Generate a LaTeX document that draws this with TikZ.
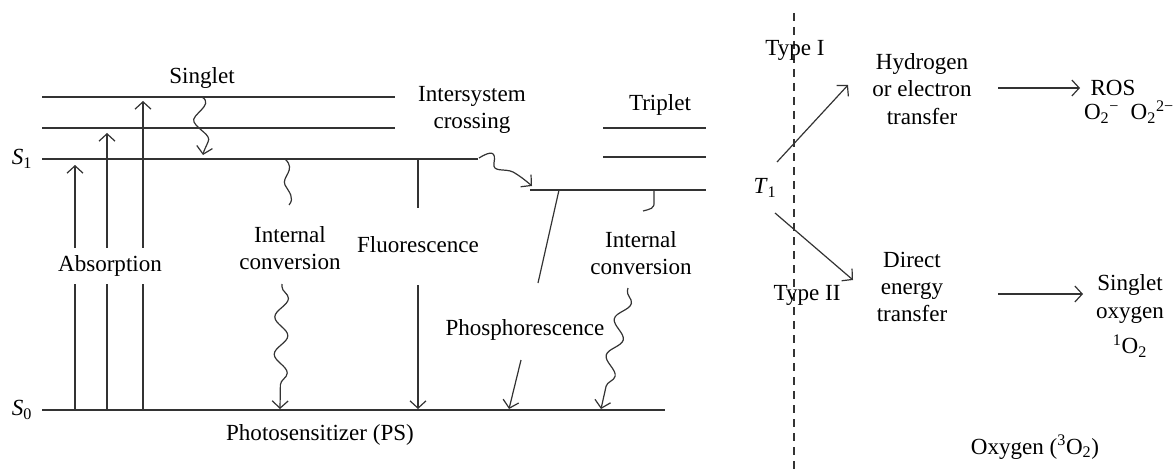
\documentclass[tikz,border=0pt]{standalone}
\usepackage{fontspec}
\setmainfont{Liberation Serif}
\usetikzlibrary{arrows.meta,decorations.pathmorphing}
\definecolor{ink}{HTML}{333333}
\begin{document}
\begin{tikzpicture}[x=0.75pt,y=-0.75pt,
  lvl/.style={draw=ink, line width=1pt},
  arr/.style={draw=ink, line width=0.9pt, -{Straight Barb[length=5.5pt,width=12pt]}},
  plain/.style={draw=ink, line width=0.9pt},
  lbl/.style={font=\fontsize{17.3}{20.5}\selectfont, align=center, inner sep=1pt, text=black},
  wavy/.style={decorate, decoration={snake, amplitude=5pt, segment length=28pt, post length=5pt, pre length=2pt}},
  dashline/.style={draw=ink, line width=0.9pt, dash pattern=on 6pt off 4.5pt}]
\useasboundingbox (0,0) rectangle (1176,474);

% ---------- levels ----------
\coordinate (sgA) at (42,97);  \coordinate (sgAe) at (395,97);
\coordinate (sgB) at (42,128); \coordinate (sgBe) at (395,128);
\coordinate (S1L) at (42,159); \coordinate (S1R) at (478,159);
\coordinate (S0L) at (42,410); \coordinate (S0R) at (665,410);
\coordinate (T1L) at (530,190); \coordinate (T1R) at (706,190);
\coordinate (tA) at (603,128); \coordinate (tAe) at (706,128);
\coordinate (tB) at (603,157); \coordinate (tBe) at (706,157);
\draw[lvl] (sgA) -- (sgAe);
\draw[lvl] (sgB) -- (sgBe);
\draw[lvl] (S1L) -- (S1R);
\draw[lvl] (S0L) -- (S0R);
\draw[lvl] (T1L) -- (T1R);
\draw[lvl] (tA) -- (tAe);
\draw[lvl] (tB) -- (tBe);

% ---------- labels left ----------
\node[lbl] (s1) at (22,159) {\textit{S}\textsubscript{1}};
\node[lbl] (s0) at (22,410) {\textit{S}\textsubscript{0}};
\node[lbl] (singlet) at (202,78) {Singlet};
\node[lbl] (triplet) at (660,105) {Triplet};
\node[lbl] (isc) at (472,110) {Intersystem\\crossing};
\node[lbl] (ps) at (320,435) {Photosensitizer (PS)};

% ---------- absorption ----------
\coordinate (a1b) at (75,410);  \coordinate (a1t) at (75,165);
\coordinate (a2b) at (107,410); \coordinate (a2t) at (107,133);
\coordinate (a3b) at (143,410); \coordinate (a3t) at (143,101);
\draw[arr] (a1b) -- (a1t);
\draw[arr] (a2b) -- (a2t);
\draw[arr] (a3b) -- (a3t);
\node[lbl, fill=white, inner xsep=8pt, inner ysep=6pt] (abs) at (110,266) {Absorption};

% singlet relaxation
\coordinate (vrA) at (202,97); \coordinate (vrB) at (203,155);
\draw[arr] (vrA) .. controls (215,105) and (190,115) .. (194,122)
           .. controls (198,130) and (212,135) .. (208,142)
           .. controls (206,147) and (204,150) .. (vrB);

% internal conversion (left)
\node[lbl] (icl) at (290,248) {Internal\\conversion};
\coordinate (icA) at (285,159); \coordinate (icB) at (289,205);
\draw[plain] (icA) .. controls (297,170) and (281,177) .. (285,185)
             .. controls (289,192) and (295,198) .. (icB);
\coordinate (icC) at (282,284); \coordinate (icD) at (280,409);
\draw[arr, wavy] (icC) -- (icD);

% fluorescence
\node[lbl] (fl) at (418,245) {Fluorescence};
\coordinate (flA) at (418,159); \coordinate (flB) at (418,208);
\coordinate (flC) at (418,285); \coordinate (flD) at (418,409);
\draw[plain] (flA) -- (flB);
\draw[arr] (flC) -- (flD);

% intersystem crossing wavy
\coordinate (iscA) at (479,158); \coordinate (iscB) at (532,186);
\draw[arr] (iscA) .. controls (492,150) and (496,152) .. (494,163)
           .. controls (492,173) and (505,168) .. (513,172)
           .. controls (520,176) and (525,180) .. (iscB);

% phosphorescence
\node[lbl] (ph) at (525,330) {Phosphorescence};
\coordinate (phA) at (559,190); \coordinate (phB) at (538,283);
\coordinate (phC) at (521,360); \coordinate (phD) at (509,409);
\draw[plain] (phA) -- (phB);
\draw[arr] (phC) -- (phD);

% internal conversion (right)
\node[lbl] (icr) at (641,253) {Internal\\conversion};
\coordinate (hkA) at (654,190); \coordinate (hkB) at (643,211);
\draw[plain] (hkA) -- (654,201) .. controls (655,209) and (650,209) .. (hkB);
\coordinate (icrC) at (628,288); \coordinate (icrD) at (601,409);
\draw[arr, wavy] (icrC) -- (icrD);

% ---------- right part ----------
\coordinate (dTop) at (794,13); \coordinate (dBot) at (794,474);
\draw[dashline] (dTop) -- (dBot);
\node[lbl] (t1) at (765,188) {\textit{T}\textsubscript{1}};
\node[lbl] (type1) at (795,50) {Type I};
\node[lbl] (type2) at (807,295) {Type II};
\node[lbl] (hyd) at (922,89) {Hydrogen\\or electron\\transfer};
\node[lbl] (det) at (912,287) {Direct\\energy\\transfer};
\node[lbl] (ros) at (1113,88) {ROS};
\node[lbl] (rosx) at (1129,112) {O\textsubscript{2}\textsuperscript{−}\ \ O\textsubscript{2}\textsuperscript{2−}};
\node[lbl] (so) at (1130,316) {Singlet\\oxygen\\[6pt]\textsuperscript{1}O\textsubscript{2}};
\node[lbl] (ox) at (1035,447) {Oxygen (\textsuperscript{3}O\textsubscript{2})};

\coordinate (k1A) at (777,162); \coordinate (k1B) at (848,85);
\coordinate (k2A) at (775,213); \coordinate (k2B) at (853,280);
\draw[arr] (k1A) -- (k1B);
\draw[arr] (k2A) -- (k2B);
\coordinate (r1A) at (998,88);  \coordinate (r1B) at (1080,88);
\coordinate (r2A) at (998,294); \coordinate (r2B) at (1083,294);
\draw[arr] (r1A) -- (r1B);
\draw[arr] (r2A) -- (r2B);
\end{tikzpicture}
\end{document}
